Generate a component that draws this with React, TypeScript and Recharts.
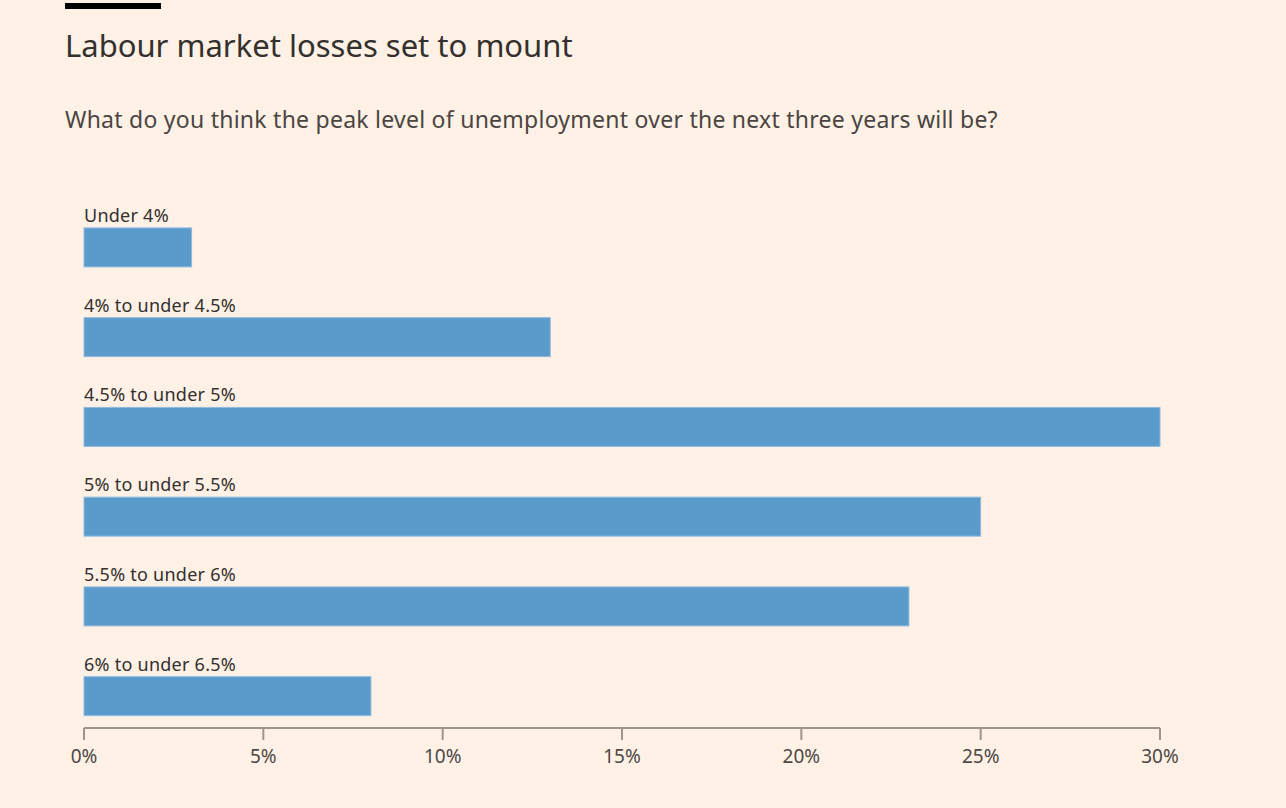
import React from "react";
import { BarChart, Bar, XAxis, YAxis } from "recharts";

const categories = ["Under 4%", "4% to under 4.5%", "4.5% to under 5%", "5% to under 5.5%", "5.5% to under 6%", "6% to under 6.5%"];
const shares = [3, 13, 30, 25, 23, 8];
const xTicks = [0, 5, 10, 15, 20, 25, 30];

const data = categories.map((name, i) => ({ name, value: shares[i] }));

const FONT = "'Noto Sans', sans-serif";
const TEXT = "#33302E";
const BAR = "#5A9BCC";
const BAR_SHIFT = 13.4;

const BarShape = (props: any) => {
  const { x, y, width, height, payload } = props;
  const top = y + BAR_SHIFT;
  return (
    <g>
      <text x={x} y={top - 6} fontSize={18} fill={TEXT} fontFamily={FONT} letterSpacing={0.25}>
        {payload.name}
      </text>
      <rect x={x} y={top} width={width} height={height} fill={BAR} stroke="#8fbbe0" strokeWidth={1} />
    </g>
  );
};

export default function App() {
  return (
    <div
      style={{
        position: "absolute",
        left: 0,
        top: 0,
        width: 1286,
        height: 808,
        background: "#FFF1E5",
        fontFamily: FONT,
        overflow: "hidden",
      }}
    >
      <div style={{ position: "absolute", left: 65, top: 3, width: 96, height: 6, background: "#000" }} />
      <div style={{ position: "absolute", left: 65, top: 24, fontSize: 31, color: TEXT, whiteSpace: "nowrap" }}>
        Labour market losses set to mount
      </div>
      <div
        style={{
          position: "absolute",
          left: 65,
          top: 103,
          fontSize: 23,
          letterSpacing: 0.25,
          color: "#4A4542",
          whiteSpace: "nowrap",
        }}
      >
        What do you think the peak level of unemployment over the next three years will be?
      </div>
      <div style={{ position: "absolute", left: 0, top: 0 }}>
        <BarChart
          width={1286}
          height={808}
          data={data}
          layout="vertical"
          margin={{ top: 189.5, right: 126, bottom: 40, left: 84 }}
          barSize={39}
        >
          <YAxis type="category" dataKey="name" hide width={0} />
          <XAxis
            type="number"
            domain={[0, 30]}
            ticks={xTicks}
            interval={0}
            height={40}
            tickFormatter={(v: number) => `${v}%`}
            axisLine={{ stroke: "#9E958D", strokeWidth: 2 }}
            tickLine={{ stroke: "#9E958D", strokeWidth: 2 }}
            tickSize={12}
            tickMargin={10}
            tick={{ fill: "#4D4845", fontSize: 19, fontFamily: FONT }}
          />
          <Bar dataKey="value" isAnimationActive={false} shape={BarShape} />
        </BarChart>
      </div>
    </div>
  );
}
